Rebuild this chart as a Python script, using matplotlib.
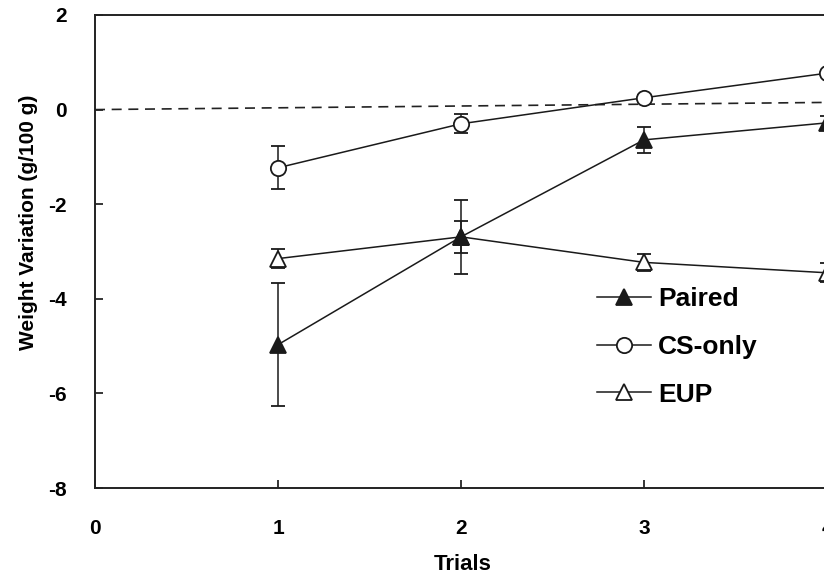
import matplotlib
matplotlib.use("Agg")
import matplotlib.pyplot as plt
from matplotlib.lines import Line2D

plt.rcParams['font.family'] = ['Liberation Sans', 'DejaVu Sans']
plt.rcParams['font.weight'] = 'bold'
plt.rcParams['axes.unicode_minus'] = False

trials = [1, 2, 3, 4]

paired = [-4.97, -2.69, -0.64, -0.28]
paired_err = [1.30, 0.78, 0.27, 0.15]

cs_only = [-1.23, -0.30, 0.25, 0.77]
cs_only_err = [0.45, 0.20, 0.05, 0.05]

eup = [-3.15, -2.69, -3.23, -3.45]
eup_err = [0.20, 0.34, 0.18, 0.20]

# reference line (baseline)
ref_x = [0, 5]
ref_y = [0.0, 0.19]

fig = plt.figure(figsize=(8.24, 5.77), dpi=100)
ax = fig.add_axes([95 / 824, 89 / 577, 915 / 824, 473 / 577])

ax.plot(ref_x, ref_y, color='#222222', lw=1.2, ls=(0, (6, 4)))

ink = '#1a1a1a'
style = dict(color=ink, lw=1.1, markersize=11, capsize=5,
             elinewidth=1.1, capthick=1.1, markeredgewidth=1.3)

ax.errorbar(trials, cs_only, yerr=cs_only_err, marker='o',
            markerfacecolor='white', **style)
ax.errorbar(trials, eup, yerr=eup_err, marker='^',
            markerfacecolor='white', **style)
ax.errorbar(trials, paired, yerr=paired_err, marker='^',
            markerfacecolor=ink, **style)

ax.set_xlim(0, 5)
ax.set_ylim(-8, 2)
ax.set_xticks([0, 1, 2, 3, 4])
ax.set_yticks([-8, -6, -4, -2, 0, 2])
ax.tick_params(direction='in', length=6, width=1.1, labelsize=15)
ax.tick_params(axis='x', pad=22)
ax.tick_params(axis='y', pad=20)
for s in ax.spines.values():
    s.set_linewidth(1.4)
    s.set_color('#222222')

# axis titles placed in figure coords since the axes run past the right edge
fig.text(463 / 824, 1 - 565 / 577, 'Trials', fontsize=16, fontweight='bold',
         ha='center', va='center')
fig.text(29 / 824, 1 - 222 / 577, 'Weight Variation (g/100 g)', fontsize=15,
         fontweight='bold', rotation=90, ha='center', va='center')

handles = [
    Line2D([], [], color=ink, lw=1.1, marker='^', markersize=11,
           markerfacecolor=ink, markeredgewidth=1.3),
    Line2D([], [], color=ink, lw=1.1, marker='o', markersize=11,
           markerfacecolor='white', markeredgewidth=1.3),
    Line2D([], [], color=ink, lw=1.1, marker='^', markersize=11,
           markerfacecolor='white', markeredgewidth=1.3),
]
labels = ['Paired', 'CS-only', 'EUP']
leg = ax.legend(handles, labels,
                loc='upper left', bbox_to_anchor=(584 / 824, 1 - 274 / 577),
                bbox_transform=fig.transFigure, frameon=False,
                fontsize=19, handlelength=2.05, handletextpad=0.25,
                labelspacing=0.9, borderpad=0)
for t in leg.get_texts():
    t.set_fontweight('bold')

fig.savefig('out.png', dpi=100)
